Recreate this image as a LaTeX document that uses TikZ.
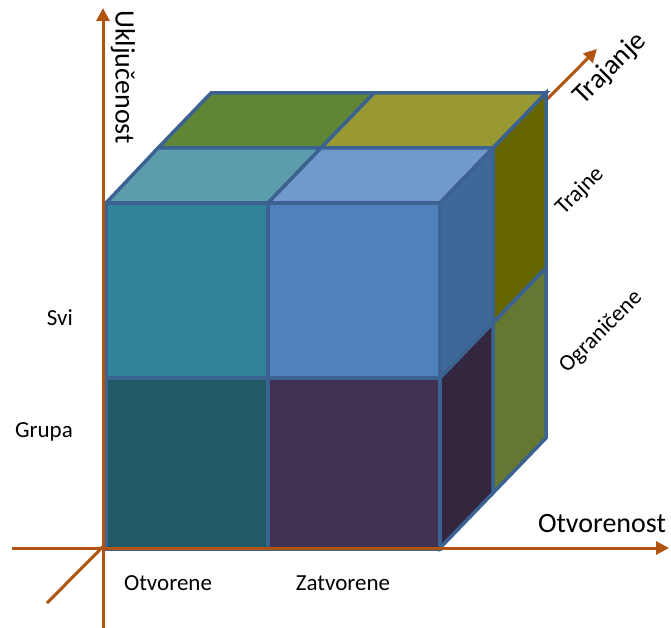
\documentclass[tikz,border=0pt]{standalone}
\usepackage{fontspec}
\setmainfont{Carlito}
\usetikzlibrary{arrows.meta}
\definecolor{axisbrown}{RGB}{176,84,16}
\definecolor{edgeblue}{RGB}{60,98,145}
\definecolor{tealfront}{RGB}{49,131,153}
\definecolor{tealtop}{RGB}{91,157,172}
\definecolor{bluefront}{RGB}{79,129,189}
\definecolor{bluetop}{RGB}{114,153,203}
\definecolor{blueside}{RGB}{63,104,152}
\definecolor{tealdark}{RGB}{34,89,103}
\definecolor{purplefront}{RGB}{64,49,81}
\definecolor{purpleside}{RGB}{51,38,63}
\definecolor{greentop}{RGB}{94,134,52}
\definecolor{olivetop}{RGB}{153,153,51}
\definecolor{oliveside}{RGB}{102,102,0}
\definecolor{greenside}{RGB}{100,120,52}

\begin{document}
\begin{tikzpicture}
[x=1pt, y=-1pt,
face/.style={draw=edgeblue, line width=3.5pt},
axis/.style={draw=axisbrown, line width=3pt, -{Triangle[length=13pt,width=13pt]}},
biglabel/.style={font=\fontsize{28}{30}\selectfont, inner sep=0pt},
smalllabel/.style={font=\fontsize{23}{25}\selectfont, inner sep=0pt}]
\useasboundingbox (0,0) rectangle (671,628);

\coordinate (xstart) at (12,548);
\coordinate (xend) at (669,548);
\coordinate (ystart) at (103,628);
\coordinate (yend) at (103,8);
\coordinate (zstart) at (47,603);
\coordinate (zend) at (597,49);

\draw[axis] (zstart) -- (zend);

% back layer
\filldraw[face, fill=greentop] (158,148) -- (321,148) -- (374,93) -- (211,93) -- cycle;
\filldraw[face, fill=olivetop] (321,148) -- (493,148) -- (546,93) -- (374,93) -- cycle;
\filldraw[face, fill=oliveside] (493,148) -- (546,93) -- (546,268) -- (493,323) -- cycle;
\filldraw[face, fill=greenside] (493,323) -- (546,268) -- (546,438) -- (493,493) -- cycle;

% front layer
\filldraw[face, fill=tealtop] (106,203) -- (268,203) -- (321,148) -- (158,148) -- cycle;
\filldraw[face, fill=bluetop] (268,203) -- (440,203) -- (493,148) -- (321,148) -- cycle;
\filldraw[face, fill=blueside] (440,203) -- (493,148) -- (493,323) -- (440,378) -- cycle;
\filldraw[face, fill=purpleside] (440,378) -- (493,323) -- (493,493) -- (440,548) -- cycle;
\filldraw[face, fill=tealfront] (106,203) rectangle (268,378);
\filldraw[face, fill=bluefront] (268,203) rectangle (440,378);
\filldraw[face, fill=tealdark] (106,378) rectangle (268,549);
\filldraw[face, fill=purplefront] (268,378) rectangle (440,549);

\draw[axis] (xstart) -- (xend);
\draw[axis] (ystart) -- (yend);

\node[biglabel, rotate=-90] (uklj) at (123,77) {Uključenost};
\node[biglabel, rotate=45] (traj) at (610,69) {Trajanje};
\node[biglabel] (otv) at (602,524) {Otvorenost};
\node[smalllabel, rotate=45] (trajne) at (580,191) {Trajne};
\node[smalllabel, rotate=45] (ogr) at (601,332) {Ograničene};
\node[smalllabel, anchor=east] (svi) at (73,318) {Svi};
\node[smalllabel, anchor=east] (grupa) at (73,432) {Grupa};
\node[smalllabel] (otvorene) at (168,583) {Otvorene};
\node[smalllabel] (zatvorene) at (343,583) {Zatvorene};
\end{tikzpicture}
\end{document}
